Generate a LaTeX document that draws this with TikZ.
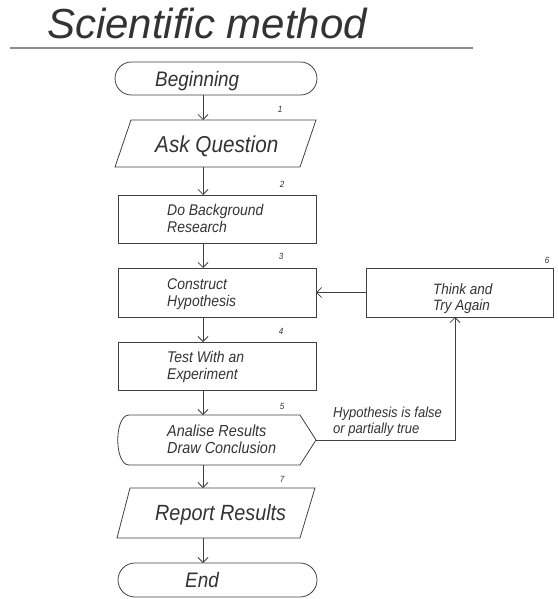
\documentclass[tikz,border=0pt]{standalone}
\usepackage{fontspec}
\usetikzlibrary{arrows.meta,calc}
\newfontfamily\gost[FakeStretch=0.9]{Liberation Sans}
\newfontfamily\gosttitle{Liberation Sans}
\definecolor{linec}{gray}{0.25}
\definecolor{txtc}{gray}{0.2}
\definecolor{rulec}{gray}{0.55}
\tikzset{
  line/.style={draw=linec, line width=0.8pt},
  arr/.style={line, -{Straight Barb[length=5pt,width=10pt]}},
  shapebox/.style={inner sep=0pt, outer sep=0pt, minimum width=#1},
  boxrect/.style={line, rectangle, inner sep=0pt, outer sep=0pt, minimum width=198pt, minimum height=48pt},
  term/.style={line, rectangle, rounded corners=16.5pt, inner sep=0pt, outer sep=0pt, minimum width=200pt, minimum height=33pt},
  lbl/.style={text=txtc, inner sep=0pt, anchor=base west, align=left, font=\gost\itshape\fontsize{15.5}{17}\selectfont},
  biglbl/.style={text=txtc, inner sep=0pt, anchor=base west, font=\gost\itshape\fontsize{22}{24}\selectfont},
  num/.style={text=txtc, inner sep=0pt, anchor=base, font=\gost\itshape\fontsize{9}{10}\selectfont},
}
\begin{document}
\begin{tikzpicture}[x=1pt,y=-1pt]
\useasboundingbox (0,0) rectangle (557,599);
% title
\node[text=txtc, inner sep=0pt, anchor=base west, font=\gosttitle\itshape\fontsize{42}{44}\selectfont] (title) at (47,39) {Scientific method};
\coordinate (ruleL) at (10,48);
\coordinate (ruleR) at (473,48);
\draw[draw=rulec, line width=1.6pt] (ruleL) -- (ruleR);

% shapes
\node[term, minimum width=202pt] (beg) at (216,78.5) {};
\node[shapebox=201pt, minimum height=47pt] (ask) at (215.5,143.5) {};
\draw[line] (ask.south west) -- ([xshift=-16pt]ask.south east) -- (ask.north east) -- ([xshift=16pt]ask.north west) -- cycle;
\node[boxrect] (res) at (217,219) {};
\node[boxrect, minimum height=49pt] (con) at (217,292.5) {};
\node[boxrect] (test) at (217,366) {};
\node[shapebox=202pt, minimum height=50pt] (ana) at (215,440) {};
\draw[line] ([xshift=15pt]ana.south west) .. controls (ana.south west) and (ana.north west) .. ([xshift=15pt]ana.north west)
  -- ([xshift=-16pt]ana.north east) -- (ana.east) -- ([xshift=-16pt]ana.south east) -- cycle;
\node[shapebox=198pt, minimum height=50pt] (rep) at (216,513) {};
\draw[line] (rep.south west) -- ([xshift=-15pt]rep.south east) -- (rep.north east) -- ([xshift=13pt]rep.north west) -- cycle;
\node[term, minimum width=199pt, minimum height=34pt, rounded corners=17pt] (end) at (217.5,580) {};
\node[boxrect, minimum width=187pt, minimum height=49pt] (think) at (459.5,292.5) {};

% texts (multi-line nodes: anchor at baseline of last line)
\node[biglbl, font=\gost\itshape\fontsize{21}{23}\selectfont] (tbeg) at (155,87) {Beginning};
\node[biglbl, font=\gost\itshape\fontsize{23}{25}\selectfont] (task) at (155,152) {Ask Question};
\node[lbl] (tres) at (167,232) {Do Background\\Research};
\node[lbl] (tcon) at (167,306) {Construct\\Hypothesis};
\node[lbl] (ttest) at (167,379) {Test With an\\Experiment};
\node[lbl, font=\gost\itshape\fontsize{16}{16.5}\selectfont] (tana) at (167,453) {Analise Results\\Draw Conclusion};
\node[biglbl] (trep) at (155,520) {Report Results};
\node[biglbl, font=\gost\itshape\fontsize{21}{23}\selectfont] (tend) at (185,587) {End};
\node[lbl, font=\gost\itshape\fontsize{15}{15.5}\selectfont] (tthink) at (433,310) {Think and\\Try Again};
\node[lbl, font=\gost\itshape\fontsize{14.5}{16}\selectfont] (thyp) at (333,433) {Hypothesis is false\\or partially true};

% numbers
\node[num] (n1) at (280,113) {1};
\node[num] (n2) at (282,187) {2};
\node[num] (n3) at (281,259) {3};
\node[num] (n4) at (281,334) {4};
\node[num] (n5) at (282,409) {5};
\node[num] (n7) at (282,482) {7};
\node[num] (n6) at (547,263) {6};

% connectors
\coordinate (axis) at (203,0);
\draw[arr] (beg.south -| axis) -- (ask.north -| axis);
\draw[arr] (ask.south -| axis) -- (res.north -| axis);
\draw[arr] (res.south -| axis) -- (con.north -| axis);
\draw[arr] (con.south -| axis) -- (test.north -| axis);
\draw[arr] (test.south -| axis) -- (ana.north -| axis);
\draw[arr] (ana.south -| axis) -- (rep.north -| axis);
\draw[arr] (rep.south -| axis) -- (end.north -| axis);
\draw[arr] (think.west) -- (con.east);
\coordinate (up) at (455,0);
\draw[arr] (ana.east) -| (think.south -| up);
\end{tikzpicture}
\end{document}
